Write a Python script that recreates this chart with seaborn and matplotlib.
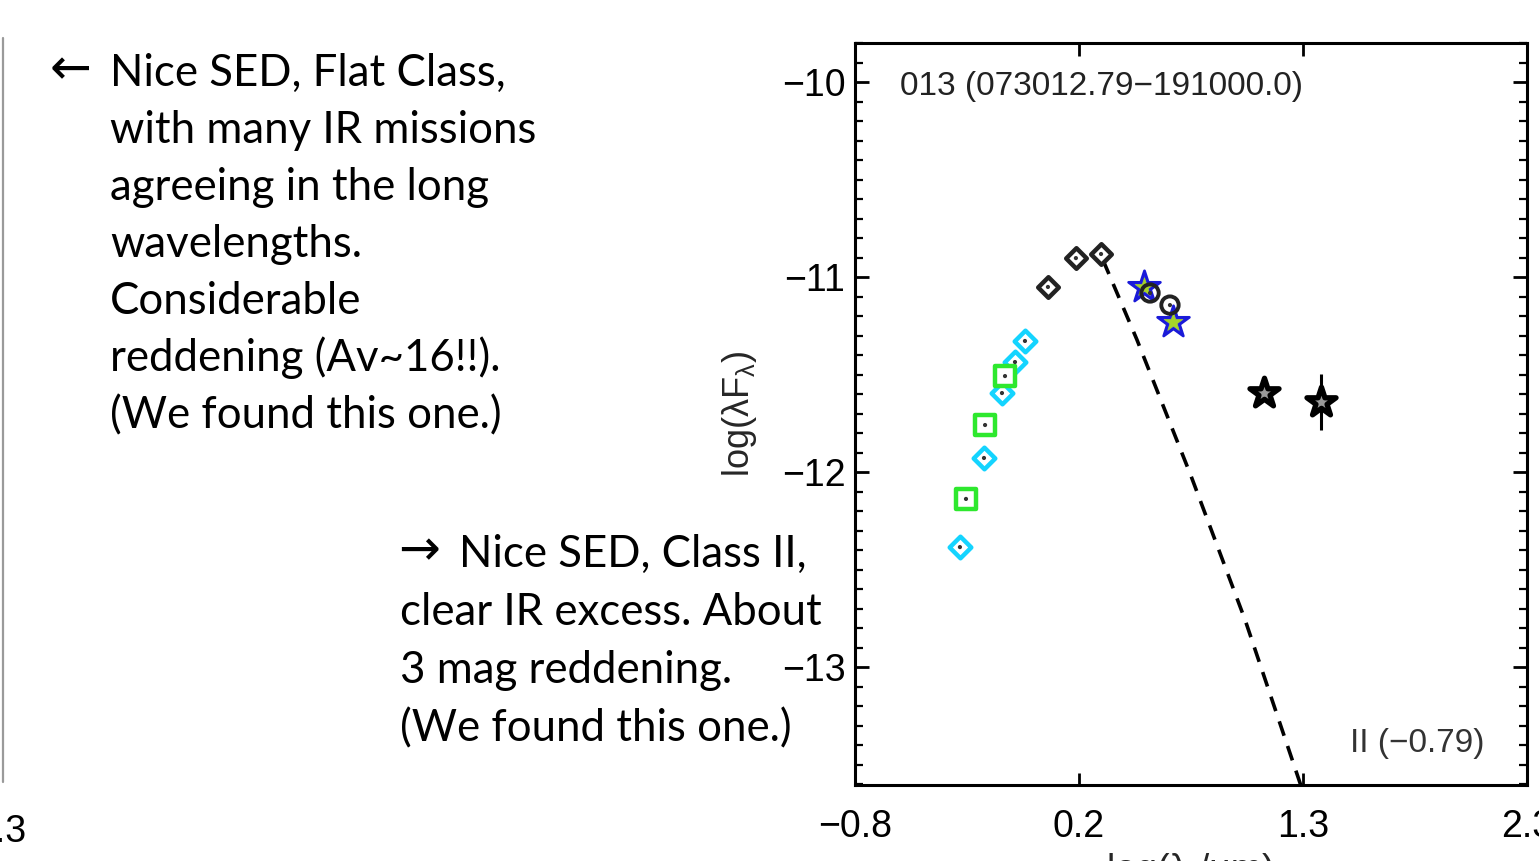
import numpy as np
import pandas as pd
import matplotlib
matplotlib.use("Agg")
import matplotlib.pyplot as plt
import seaborn as sns
from matplotlib.lines import Line2D
from matplotlib.ticker import MultipleLocator, FixedLocator

# ---------------- data ----------------
cyan_x = [-0.316, -0.205, -0.122, -0.062, -0.016]
cyan_y = [-12.385, -11.928, -11.595, -11.436, -11.328]
green_x = [-0.288, -0.200, -0.108]
green_y = [-12.138, -11.759, -11.508]
dia_x = [0.090, 0.219, 0.335]
dia_y = [-11.051, -10.903, -10.882]
bstar_x = [0.533, 0.667]
bstar_y = [-11.051, -11.231]
circ_x = [0.561, 0.653]
circ_y = [-11.082, -11.144]
kstar_x = [1.087, 1.349]
kstar_y = [-11.595, -11.641]
kstar_err = [0.0, 0.144]
model_x = [0.344, 0.50, 0.75, 1.00, 1.30]
model_y = [-10.913, -11.32, -12.02, -12.76, -13.75]

xticks = [-0.8, 0.2333, 1.2667, 2.3]
xticklabels = ["\u22120.8", "0.2", "1.3", "2.3"]
yticks = [-13, -12, -11, -10]
yticklabels = ["\u221213", "\u221212", "\u221211", "\u221210"]

title_text = "013 (073012.79\u2212191000.0)"
class_text = "II (\u22120.79)"
note1 = ["Nice SED, Flat Class,", "with many IR missions", "agreeing in the long",
         "wavelengths.", "Considerable", "reddening (Av~16!!).", "(We found this one.)"]
note2 = ["Nice SED, Class II,", "clear IR excess. About", "3 mag reddening.",
         "(We found this one.)"]

# ---------------- style ----------------
sns.set_theme(style="white")
plt.rcParams["font.family"] = ["Liberation Sans", "DejaVu Sans"]
plt.rcParams["mathtext.fontset"] = "custom"
plt.rcParams["mathtext.rm"] = "Liberation Sans"
plt.rcParams["mathtext.it"] = "Liberation Sans:italic"

W, H = 1539, 861
fig = plt.figure(figsize=(W / 100, H / 100), dpi=100)
fig.patch.set_facecolor("white")

def fx(x):
    return x / W

def fy(y):
    return 1 - y / H

ax = fig.add_axes([fx(855), fy(785), (1527 - 855) / W, (785 - 43) / H])
ax.set_facecolor("white")

# model photosphere (dashed)
mdf = pd.DataFrame({"x": model_x, "y": model_y})
sns.lineplot(data=mdf, x="x", y="y", ax=ax, color="black", lw=2.6,
             linestyle=(0, (4.2, 3.0)), sort=False, zorder=2)

# cyan diamonds
cdf = pd.DataFrame({"x": cyan_x, "y": cyan_y})
sns.scatterplot(data=cdf, x="x", y="y", ax=ax, marker="D", s=11 ** 2,
                facecolor="white", edgecolor="#14d4ff", linewidth=3.2, zorder=3)
# green squares
gdf = pd.DataFrame({"x": green_x, "y": green_y})
sns.scatterplot(data=gdf, x="x", y="y", ax=ax, marker="s", s=14 ** 2,
                facecolor="white", edgecolor="#2ee82e", linewidth=3.2, zorder=3)
# black diamonds
ddf = pd.DataFrame({"x": dia_x, "y": dia_y})
sns.scatterplot(data=ddf, x="x", y="y", ax=ax, marker="D", s=10.5 ** 2,
                facecolor="white", edgecolor="#222222", linewidth=3.2, zorder=3)
# blue stars with yellow-green core
bdf = pd.DataFrame({"x": bstar_x, "y": bstar_y})
sns.scatterplot(data=bdf, x="x", y="y", ax=ax, marker="*", s=24 ** 2,
                facecolor="#2424f0", edgecolor="#1a1ad8", linewidth=2.0, zorder=4)
sns.scatterplot(data=bdf, x="x", y="y", ax=ax, marker="*", s=14 ** 2,
                facecolor="#a6d428", edgecolor="#a6d428", linewidth=0.5, zorder=5)
# black open circles
odf = pd.DataFrame({"x": circ_x, "y": circ_y})
sns.scatterplot(data=odf, x="x", y="y", ax=ax, marker="o", s=12.5 ** 2,
                facecolor="none", edgecolor="#222222", linewidth=2.8, zorder=6)
# black stars
kdf = pd.DataFrame({"x": kstar_x, "y": kstar_y})
ax.errorbar(kstar_x, kstar_y, yerr=kstar_err, fmt="none", ecolor="black",
            elinewidth=2.2, capsize=0, zorder=3)
sns.scatterplot(data=kdf, x="x", y="y", ax=ax, marker="*", s=22 ** 2,
                facecolor="#9a9a9a", edgecolor="black", linewidth=3.8, zorder=4)

# small central data dots
alldf = pd.DataFrame({"x": cyan_x + green_x + dia_x + circ_x,
                      "y": cyan_y + green_y + dia_y + circ_y})
sns.scatterplot(data=alldf, x="x", y="y", ax=ax, marker="o", s=3 ** 2,
                color="#333333", edgecolor="none", linewidth=0, zorder=7)

ax.set_xlim(-0.8, 2.3)
ax.set_ylim(-13.605, -9.8)

ax.xaxis.set_major_locator(FixedLocator(xticks))
ax.set_xticklabels(xticklabels)
ax.yaxis.set_major_locator(FixedLocator(yticks))
ax.set_yticklabels(yticklabels)
ax.yaxis.set_minor_locator(MultipleLocator(0.1))

for sp in ax.spines.values():
    sp.set_visible(True)
    sp.set_color("black")
    sp.set_linewidth(2.2)

ax.tick_params(axis="both", which="both", direction="in", colors="black",
               top=True, right=True, bottom=True, left=True)
ax.tick_params(axis="x", which="major", length=9, width=2, labelsize=27, pad=17)
ax.tick_params(axis="y", which="major", length=10, width=2, labelsize=27, pad=7)
ax.tick_params(axis="y", which="minor", length=5.5, width=1.6)

ax.set_xlabel("log(\u03bb /\u03bcm)", fontsize=27, labelpad=6)
ax.set_ylabel(r"log(λF$_\mathrm{λ}$)", fontsize=26, labelpad=16)

ax.text(fx(900), fy(95), title_text, transform=fig.transFigure,
        fontsize=24, ha="left", va="baseline", color="#222222")
ax.text(fx(1350), fy(752), class_text, transform=fig.transFigure,
        fontsize=24, ha="left", va="baseline", color="#333333")

# ---------------- slide annotations ----------------
slide_font = ["Lato", "DejaVu Sans"]
fs = 31.5
fig.text(fx(50), fy(84), "\u2190", fontsize=36, family=["DejaVu Sans"],
         ha="left", va="baseline", color="black")
for i, line in enumerate(note1):
    fig.text(fx(110), fy(86 + 57 * i), line, fontsize=fs, family=slide_font,
             ha="left", va="baseline", color="black")

fig.text(fx(398), fy(565), "\u2192", fontsize=36, family=["DejaVu Sans"],
         ha="left", va="baseline", color="black")
for i, line in enumerate(note2):
    x0 = 459 if i == 0 else 400
    fig.text(fx(x0), fy(567 + 58 * i), line, fontsize=fs, family=slide_font,
             ha="left", va="baseline", color="black")

# fragments of the neighbouring panel at the left edge
fig.add_artist(Line2D([fx(3), fx(3)], [fy(38), fy(782)], color="#9a9a9a", lw=1.6))
fig.text(fx(26), fy(842), "2.3", fontsize=27, ha="right", va="baseline",
         family=["Liberation Sans"], color="black")

fig.savefig("out.png", dpi=100, facecolor="white")
